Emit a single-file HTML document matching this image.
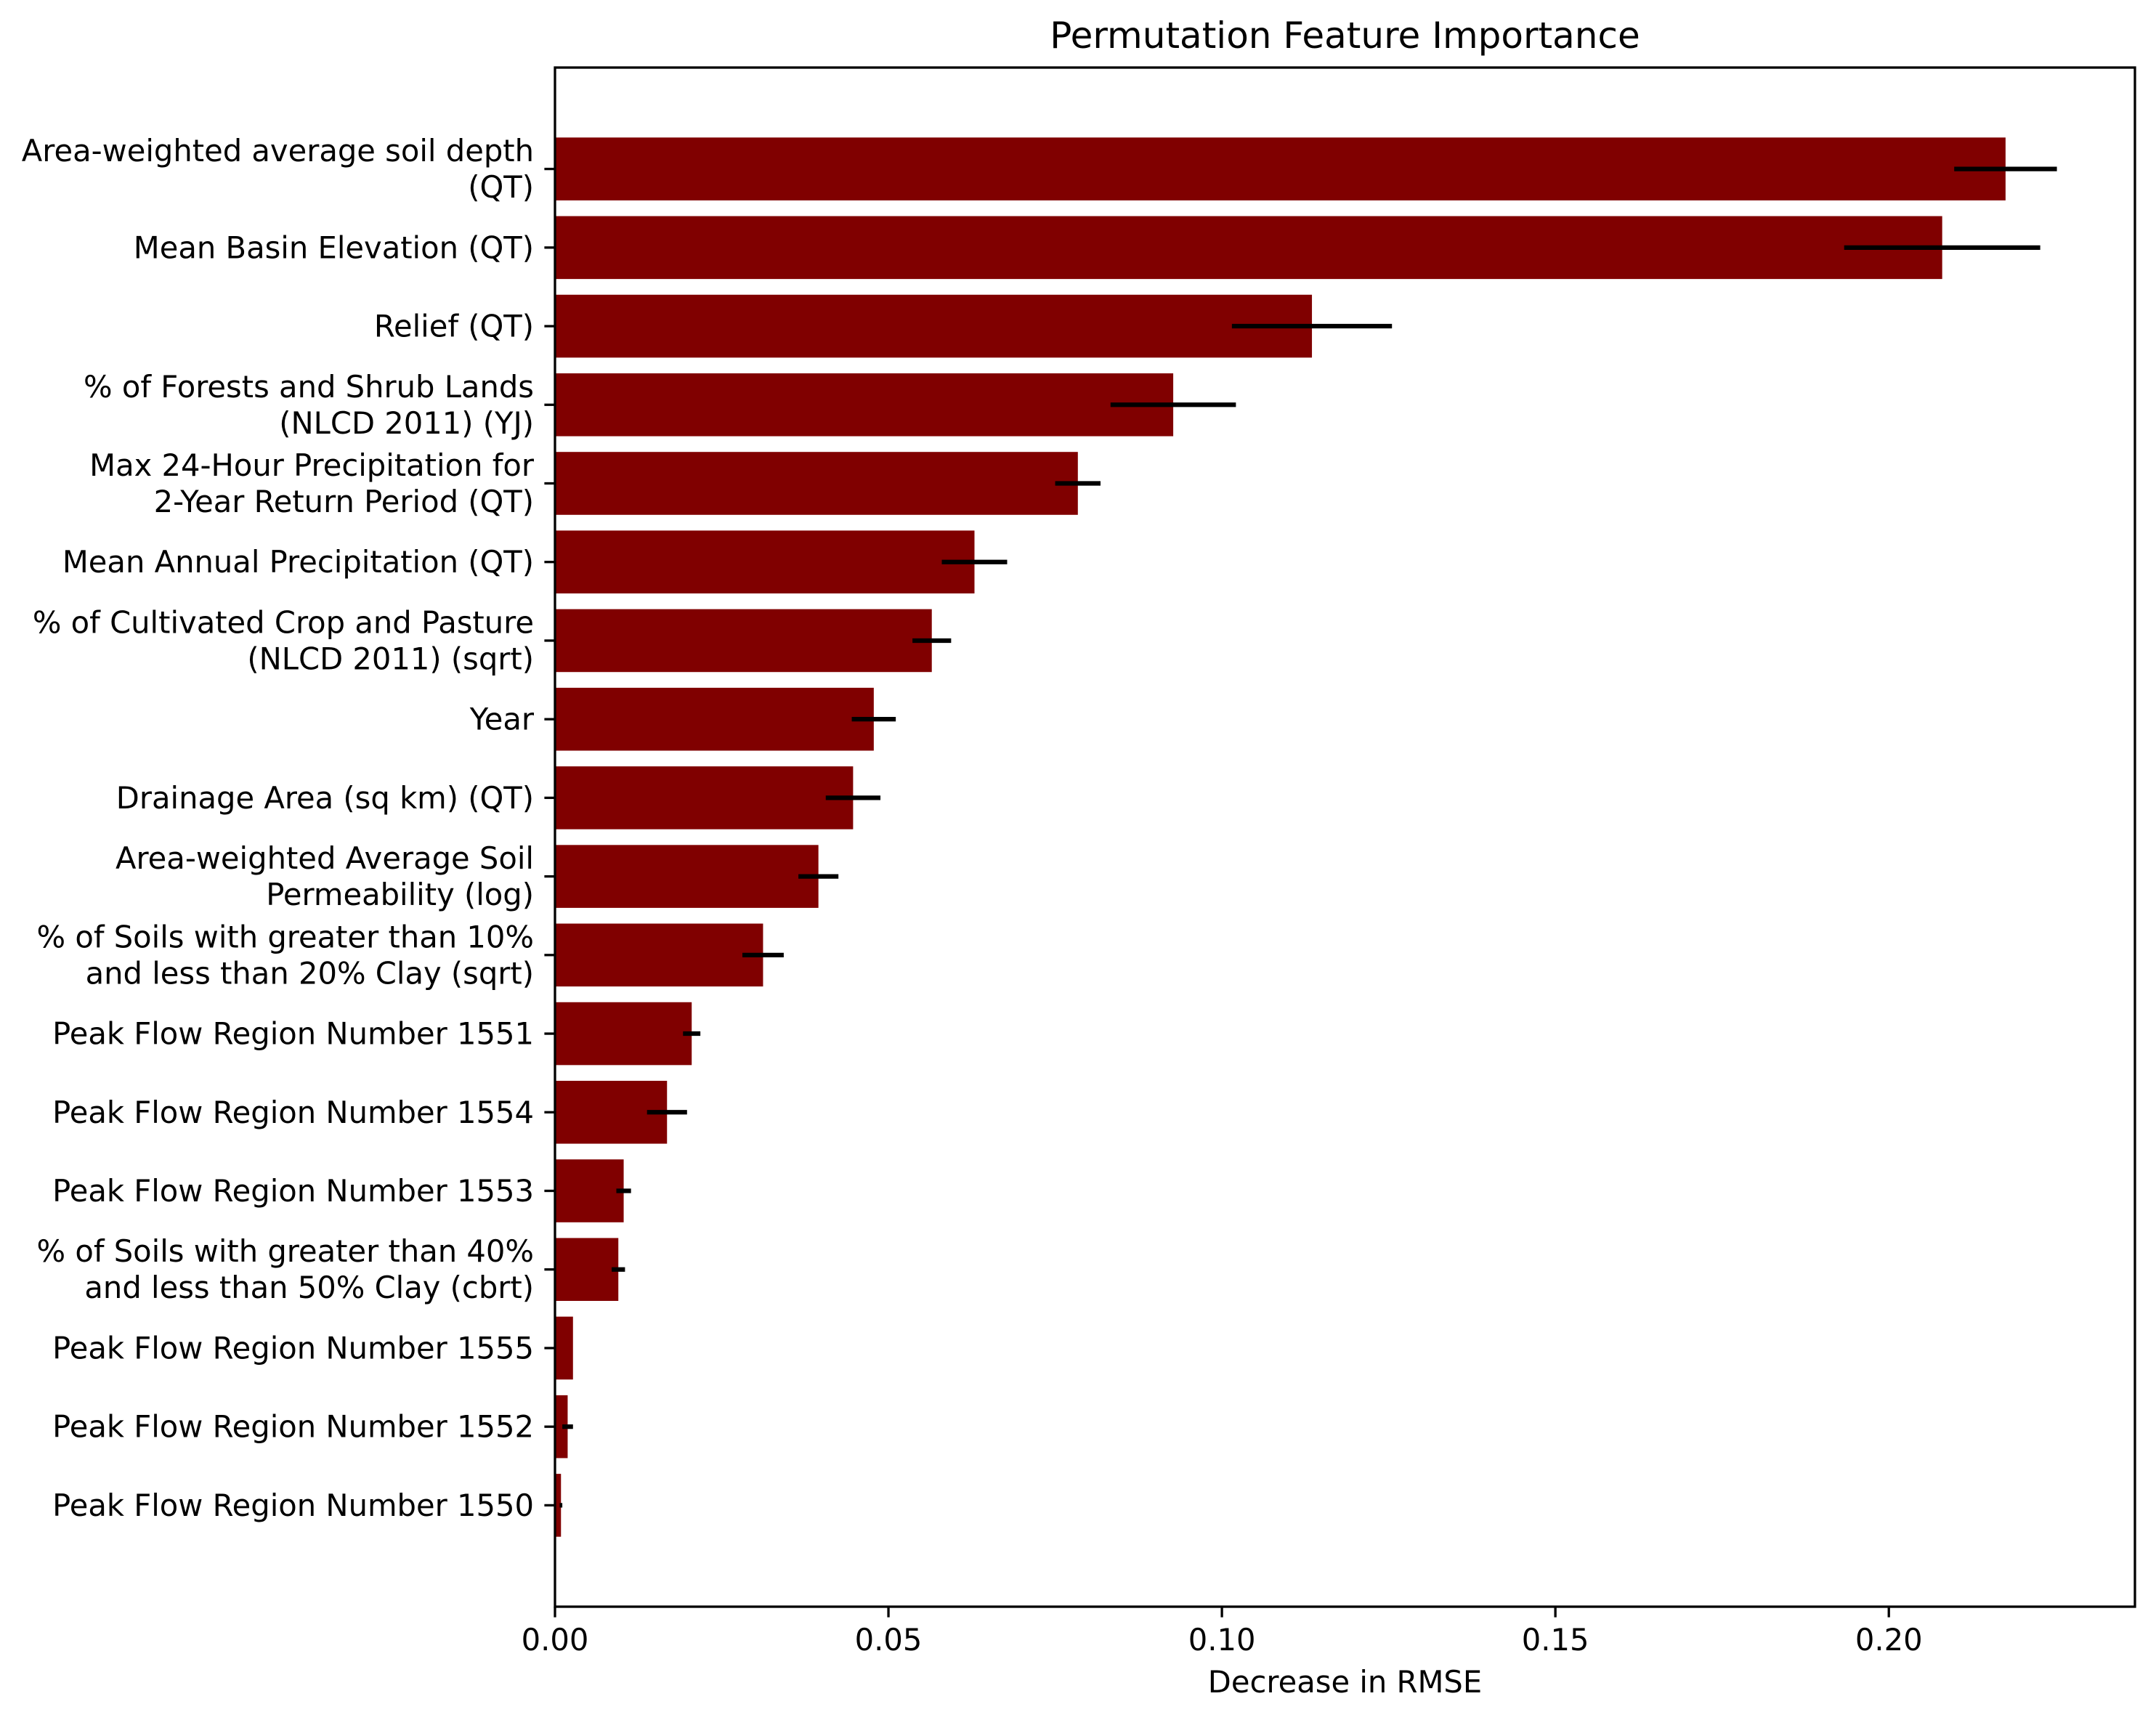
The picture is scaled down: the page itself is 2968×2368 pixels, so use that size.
<!DOCTYPE html>
<html><head><meta charset="utf-8">
<style>html,body{margin:0;padding:0;background:#fff;}svg{display:block;}
text{font-family:"DejaVu Sans","Liberation Sans",sans-serif;fill:#000;}</style></head>
<body>
<svg id="chart" width="2968" height="2368" viewBox="0 0 2968 2368" xmlns="http://www.w3.org/2000/svg">
<rect width="2968" height="2368" fill="#fff"/>
<text x="1851.5" y="66" font-size="50" text-anchor="middle">Permutation Feature Importance</text>
<text x="1851.5" y="2330" font-size="41.67" text-anchor="middle">Decrease in RMSE</text>
<g id="plot"></g>
</svg>
<script>
const categories = [
 ["Area-weighted average soil depth","(QT)"],
 ["Mean Basin Elevation (QT)"],
 ["Relief (QT)"],
 ["% of Forests and Shrub Lands","(NLCD 2011) (YJ)"],
 ["Max 24-Hour Precipitation for","2-Year Return Period (QT)"],
 ["Mean Annual Precipitation (QT)"],
 ["% of Cultivated Crop and Pasture","(NLCD 2011) (sqrt)"],
 ["Year"],
 ["Drainage Area (sq km) (QT)"],
 ["Area-weighted Average Soil","Permeability (log)"],
 ["% of Soils with greater than 10%","and less than 20% Clay (sqrt)"],
 ["Peak Flow Region Number 1551"],
 ["Peak Flow Region Number 1554"],
 ["Peak Flow Region Number 1553"],
 ["% of Soils with greater than 40%","and less than 50% Clay (cbrt)"],
 ["Peak Flow Region Number 1555"],
 ["Peak Flow Region Number 1552"],
 ["Peak Flow Region Number 1550"]
];
const importance = [0.2175,0.208,0.1135,0.0927,0.0784,0.0629,0.0565,0.0478,0.0447,0.0395,0.0312,0.0205,0.0168,0.0103,0.0095,0.0027,0.0019,0.0009];
const errors = [0.0077,0.0147,0.012,0.0094,0.0034,0.0049,0.0029,0.0033,0.0041,0.003,0.0031,0.0013,0.003,0.0011,0.001,0.0,0.0008,0.0002];
const xTicks = [0,0.05,0.10,0.15,0.20];
const xTickLabels = ["0.00","0.05","0.10","0.15","0.20"];

const NS="http://www.w3.org/2000/svg";
const L=764,R=2939,T=93,B=2212;
const xMin=0,xMax=0.2369;
const n=categories.length;
const yMin=-0.4-0.89,yMax=(n-1)+0.4+0.89;
function xs(v){return L+(v-xMin)/(xMax-xMin)*(R-L);}
function ys(i){return T+(i-yMin)/(yMax-yMin)*(B-T);}
const unit=(B-T)/(yMax-yMin);
const g=document.getElementById('plot');
function mk(tag,attrs,parent){const e=document.createElementNS(NS,tag);for(const k in attrs)e.setAttribute(k,attrs[k]);(parent||g).appendChild(e);return e;}

importance.forEach((v,i)=>{
  const r=mk('rect',{x:xs(0),y:ys(i)-0.4*unit,width:xs(v)-xs(0),height:0.8*unit,fill:'#800000'});
  
  
});
importance.forEach((v,i)=>{
  const e=mk('line',{x1:xs(v-errors[i]),x2:xs(v+errors[i]),y1:ys(i),y2:ys(i),stroke:'#000','stroke-width':6.25});
  
  
});
categories.forEach((lines,i)=>{
  const y=ys(i);
  const t=mk('line',{x1:L-14.6,x2:L,y1:y,y2:y,stroke:'#000','stroke-width':3.3});
  
  
  const lh=50;
  const y0=y-(lines.length-1)*lh/2+14.5;
  lines.forEach((s,j)=>{
    const tx=mk('text',{x:735,y:y0+j*lh,'font-size':41.67,'text-anchor':'end'});
    tx.textContent=s;
    
    
  });
});
xTicks.forEach((v,i)=>{
  const x=xs(v);
  const t=mk('line',{x1:x,x2:x,y1:B,y2:B+14.6,stroke:'#000','stroke-width':3.3});
  
  
  const tx=mk('text',{x:x,y:2272,'font-size':41.67,'text-anchor':'middle'});
  tx.textContent=xTickLabels[i];
  
  
});
const frame=mk('rect',{x:L,y:T,width:R-L,height:B-T,fill:'none',stroke:'#000','stroke-width':3.3});


</script>
</body></html>
